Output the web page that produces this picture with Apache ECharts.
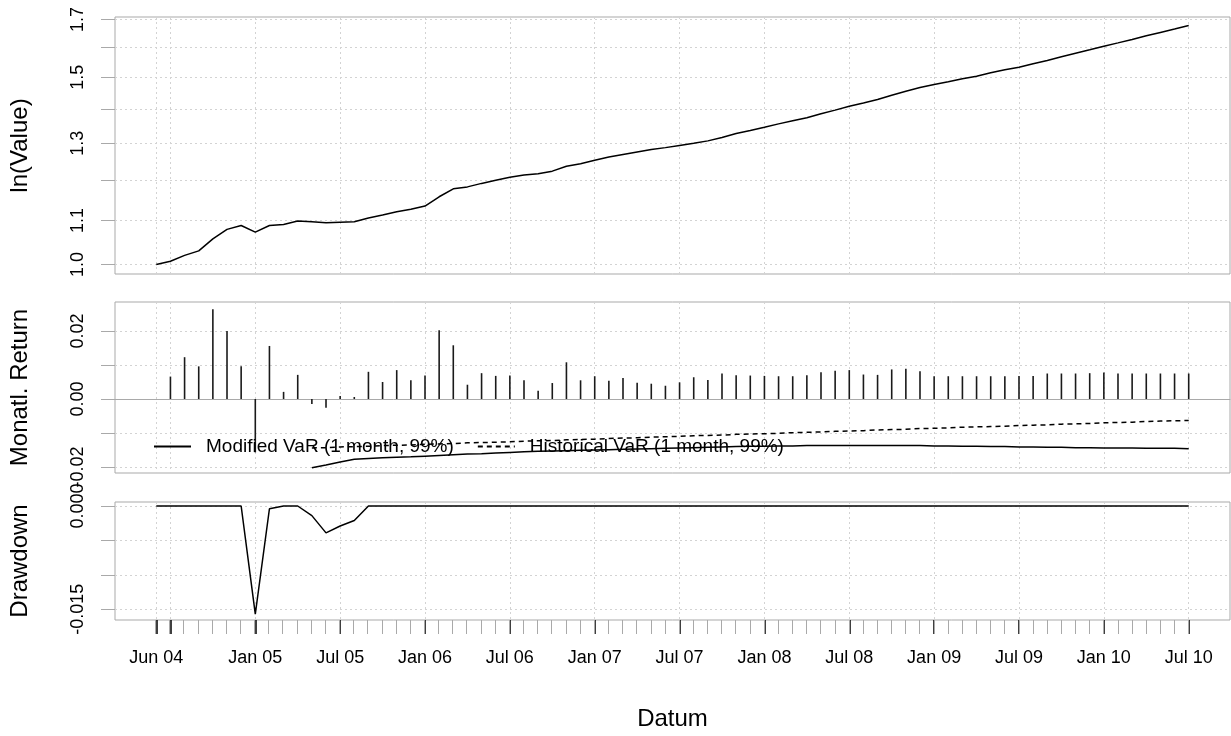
<!DOCTYPE html>
<html><head><meta charset="utf-8">
<script src="https://cdn.jsdelivr.net/npm/echarts@6/dist/echarts.min.js"></script>
<style>html,body{margin:0;padding:0;background:#fff}#c{width:1231px;height:736px}</style>
</head><body><div id="c"></div>
<script>
// ---- data (month index 0 = Jun 04 ... 73 = Jul 10) ----
const tickLabels = ['Jun 04','Jan 05','Jul 05','Jan 06','Jul 06','Jan 07','Jul 07','Jan 08','Jul 08','Jan 09','Jul 09','Jan 10','Jul 10'];
const tickLabelIdx = [0,7,13,19,25,31,37,43,49,55,61,67,73];
const majorTickIdx = [0,1,7,13,19,25,31,37,43,49,55,61,67,73];

// cumulative value (index 0..73)
const cumValue = [1.000,1.007,1.020,1.030,1.057,1.079,1.088,1.0725,1.088,1.0905,
  1.099,1.097,1.0945,1.096,1.097,1.106,1.113,1.121,1.127,1.135,
  1.158,1.178,1.183,1.192,1.200,1.208,1.214,1.217,1.224,1.237,
  1.244,1.253,1.262,1.269,1.276,1.283,1.288,1.294,1.300,1.307,
  1.3166,1.328,1.3367,1.346,1.356,1.365,1.374,1.386,1.397,1.409,
  1.419,1.4295,1.443,1.455,1.467,1.4767,1.4854,1.495,1.5035,1.5146,
  1.5245,1.533,1.5445,1.5555,1.568,1.580,1.592,1.6045,1.616,1.628,
  1.641,1.653,1.665,1.678];
const cumValueTicks = [1.0,1.1,1.2,1.3,1.4,1.5,1.6,1.7];
const cumValueLabels = [1.0,1.1,1.3,1.5,1.7];

// monthly returns (index 1..73)
const returnsStart = 1;
const monthlyReturns = [0.0066,0.0123,0.0096,0.0264,0.0200,0.0096,-0.0157,0.0156,0.0021,0.0071,
  -0.0015,-0.0026,0.0009,0.0006,0.0080,0.0050,0.0085,0.0055,0.0069,0.0202,
  0.0158,0.0042,0.0076,0.0068,0.0069,0.0055,0.0024,0.0047,0.0108,0.0055,
  0.0067,0.0054,0.0062,0.0048,0.0045,0.0039,0.0049,0.0064,0.0056,0.0075,
  0.0070,0.0069,0.0068,0.0067,0.0067,0.0070,0.0079,0.0083,0.0085,0.0072,
  0.0071,0.0087,0.0089,0.0082,0.0067,0.0067,0.0067,0.0067,0.0067,0.0067,
  0.0068,0.0068,0.0075,0.0075,0.0075,0.0076,0.0078,0.0075,0.0075,0.0075,
  0.0075,0.0075,0.0075];
const returnTicks = [-0.02,-0.01,0,0.01,0.02];
const returnLabels = [-0.02,0,0.02];

// VaR series (index 11..73)
const varStart = 11;
const modifiedVaR = [-0.0202,-0.0194,-0.0185,-0.0177,-0.0175,-0.0173,-0.0171,-0.0170,-0.0168,-0.0166,
  -0.0164,-0.0162,-0.0161,-0.0159,-0.0157,-0.0155,-0.0154,-0.0153,-0.0152,-0.0151,
  -0.0150,-0.0149,-0.0148,-0.0147,-0.0146,-0.0145,-0.0144,-0.0143,-0.0142,-0.0141,
  -0.0140,-0.0139,-0.0139,-0.0138,-0.0138,-0.0137,-0.0137,-0.0137,-0.0137,-0.0137,
  -0.0137,-0.0137,-0.0137,-0.0137,-0.0138,-0.0138,-0.0139,-0.0139,-0.0140,-0.0140,
  -0.0141,-0.0141,-0.0142,-0.0142,-0.0143,-0.0143,-0.0144,-0.0144,-0.0144,-0.0145,
  -0.0145,-0.0145,-0.0146];
const historicalVaR = [-0.0144,-0.0143,-0.0141,-0.0140,-0.0139,-0.0137,-0.0136,-0.0135,-0.0133,-0.0132,
  -0.0131,-0.0129,-0.0128,-0.0127,-0.0126,-0.0124,-0.0123,-0.0122,-0.0120,-0.0119,
  -0.0118,-0.0116,-0.0115,-0.0114,-0.0112,-0.0111,-0.0110,-0.0108,-0.0107,-0.0106,
  -0.0104,-0.0103,-0.0102,-0.0101,-0.0099,-0.0098,-0.0097,-0.0095,-0.0094,-0.0093,
  -0.0091,-0.0090,-0.0089,-0.0087,-0.0086,-0.0085,-0.0083,-0.0082,-0.0081,-0.0080,
  -0.0078,-0.0077,-0.0076,-0.0074,-0.0073,-0.0072,-0.0070,-0.0069,-0.0068,-0.0066,
  -0.0065,-0.0064,-0.0063];

// drawdown (index 0..73)
const drawdown = [0,0,0,0,0,0,0,-0.0157,-0.0004,0,
  0,-0.0014,-0.0039,-0.0029,-0.0021,0,0,0,0,0,
  0,0,0,0,0,0,0,0,0,0,0,0,0,0,0,0,0,0,0,0,
  0,0,0,0,0,0,0,0,0,0,0,0,0,0,0,0,0,0,0,0,
  0,0,0,0,0,0,0,0,0,0,0,0,0,0];
const drawdownTicks = [0,-0.005,-0.010,-0.015];
const drawdownLabels = [0,-0.015];

// ---- build ----
const FONT = '"Liberation Sans", Arial, Helvetica, sans-serif';
const BOX = '#a9a9a9', GRIDC = '#d3d3d3';
const allMonthIdx = cumValue.map((_, i) => i);
const XMIN = -2.92, XMAX = 75.92;
const L = 114, W = 1116;

function xAxisBase(gridIndex) {
  return {
    type: 'value', gridIndex, min: XMIN, max: XMAX,
    axisLine: {show: false, onZero: false},
    axisTick: {show: false, customValues: majorTickIdx},
    axisLabel: {show: false},
    splitLine: {show: true, lineStyle: {color: GRIDC, type: [2, 3], width: 1}}
  };
}
function yAxisBase(gridIndex, min, max, ticks, labels, fmt, name) {
  return {
    type: 'value', gridIndex, min, max,
    name, nameLocation: 'middle', nameGap: 83,
    nameTextStyle: {fontFamily: FONT, fontSize: 24, color: '#000'},
    axisLine: {show: false, onZero: false},
    axisTick: {show: true, inside: false, length: 14, customValues: ticks, lineStyle: {color: BOX, width: 1}},
    axisLabel: {show: true, customValues: labels, rotate: 90, margin: 28, formatter: fmt,
      fontFamily: FONT, fontSize: 18, color: '#000'},
    splitLine: {show: true, lineStyle: {color: GRIDC, type: [2, 3], width: 1}}
  };
}

const x0 = xAxisBase(0);
const x1 = xAxisBase(1);
x1.axisLine = {show: true, onZero: true, lineStyle: {color: BOX, width: 1}};
const x2 = xAxisBase(2);
x2.axisTick = {show: true, inside: false, length: 14, customValues: majorTickIdx, lineStyle: {color: '#000', width: 1.5}};
x2.axisLabel = {show: true, customValues: tickLabelIdx, margin: 29, fontFamily: FONT, fontSize: 18, color: '#000',
  formatter: v => tickLabels[tickLabelIdx.indexOf(Math.round(v))] || ''};
x2.name = 'Datum'; x2.nameLocation = 'middle'; x2.nameGap = 87;
x2.nameTextStyle = {fontFamily: FONT, fontSize: 24, color: '#000'};
const x3 = {
  type: 'value', gridIndex: 3, min: XMIN, max: XMAX,
  axisLine: {show: false, onZero: false},
  axisTick: {show: true, inside: false, length: 14, customValues: allMonthIdx, lineStyle: {color: BOX, width: 1}},
  axisLabel: {show: false}, splitLine: {show: false}
};

const y0 = yAxisBase(0, -0.0206, 0.536, cumValueTicks.map(Math.log), cumValueLabels.map(Math.log),
  v => Math.exp(v).toFixed(1), 'ln(Value)');
const y1 = yAxisBase(1, -0.02176, 0.02853, returnTicks, returnLabels, v => v.toFixed(2), 'Monatl. Return');
const y2 = yAxisBase(2, -0.01655, 0.00058, drawdownTicks, drawdownLabels, v => v.toFixed(3), 'Drawdown');
const y3 = {type: 'value', gridIndex: 3, min: -0.01655, max: 0.00058, show: false,
  axisLine: {onZero: false}, splitLine: {show: false}};

const option = {
  animation: false,
  backgroundColor: '#fff',
  textStyle: {fontFamily: FONT},
  grid: [
    {left: L, top: 17, width: W, height: 257, show: true, borderColor: BOX, borderWidth: 1},
    {left: L, top: 302, width: W, height: 171, show: true, borderColor: BOX, borderWidth: 1},
    {left: L, top: 502, width: W, height: 118, show: true, borderColor: BOX, borderWidth: 1},
    {left: L, top: 502, width: W, height: 118, show: false}
  ],
  xAxis: [x0, x1, x2, x3],
  yAxis: [y0, y1, y2, y3],
  legend: {
    left: 153, top: 437, orient: 'horizontal', selectedMode: false,
    padding: 0, itemGap: 23, itemWidth: 37, itemHeight: 14,
    itemStyle: {color: 'rgba(0,0,0,0)', opacity: 0, borderWidth: 0},
    textStyle: {fontFamily: FONT, fontSize: 19, color: '#000', padding: [0, 0, 0, 10]},
    data: ['Modified VaR (1 month, 99%)', 'Historical VaR (1 month, 99%)']
  },
  series: [
    {type: 'line', xAxisIndex: 0, yAxisIndex: 0, symbol: 'none',
      lineStyle: {color: '#000', width: 1.5},
      data: cumValue.map((v, i) => [i, Math.log(v)])},
    {type: 'bar', xAxisIndex: 1, yAxisIndex: 1, barWidth: 1.6,
      itemStyle: {color: '#1a1a1a'},
      data: monthlyReturns.map((v, i) => [i + returnsStart, v])},
    {name: 'Modified VaR (1 month, 99%)', type: 'line', xAxisIndex: 1, yAxisIndex: 1, symbol: 'none',
      itemStyle: {color: '#000'},
      lineStyle: {color: '#000', width: 1.5, type: 'solid'},
      data: modifiedVaR.map((v, i) => [i + varStart, v])},
    {name: 'Historical VaR (1 month, 99%)', type: 'line', xAxisIndex: 1, yAxisIndex: 1, symbol: 'none',
      itemStyle: {color: '#000'},
      lineStyle: {color: '#000', width: 1.5, type: [5, 4]},
      data: historicalVaR.map((v, i) => [i + varStart, v])},
    {type: 'line', xAxisIndex: 2, yAxisIndex: 2, symbol: 'none',
      lineStyle: {color: '#000', width: 1.5},
      data: drawdown.map((v, i) => [i, v])}
  ]
};
const chart = echarts.init(document.getElementById('c'), null, {renderer: 'canvas'});
chart.setOption(option);
</script></body></html>
